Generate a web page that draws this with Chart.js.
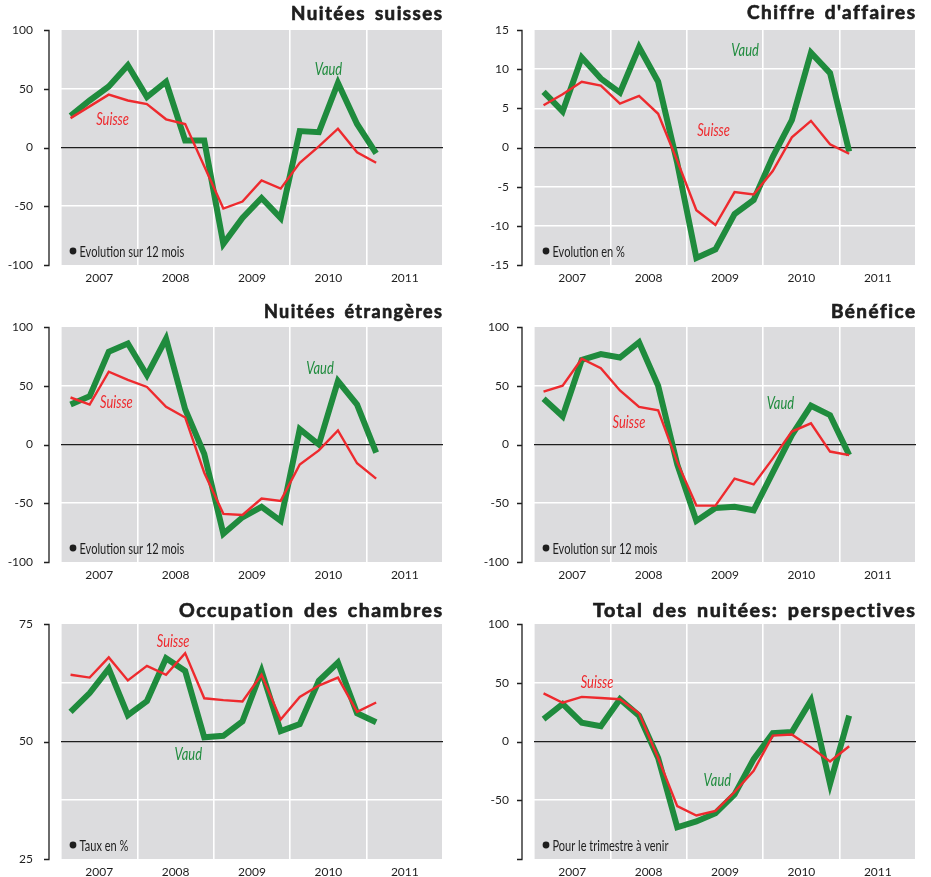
<!DOCTYPE html>
<html>
<head>
<meta charset="utf-8">
<script src="https://cdn.jsdelivr.net/npm/chart.js@4"></script>
<style>
  html, body { margin: 0; padding: 0; background: #fff; overflow: hidden; }
  canvas { position: absolute; }
</style>
</head>
<body>
<canvas id="c1" width="460" height="290" style="left:0;top:0"></canvas>
<canvas id="c2" width="458" height="290" style="left:473px;top:0"></canvas>
<canvas id="c3" width="460" height="290" style="left:0;top:297px"></canvas>
<canvas id="c4" width="458" height="290" style="left:473px;top:297px"></canvas>
<canvas id="c5" width="460" height="283" style="left:0;top:594px"></canvas>
<canvas id="c6" width="458" height="283" style="left:473px;top:594px"></canvas>
<script>
// Tick labels for the x axis (one per year)
const years = ['2007', '2008', '2009', '2010', '2011'];

// Quarters shown: 2007 T1 ... 2011 T1
const quarters = ['2007 T1', '2007 T2', '2007 T3', '2007 T4',
                  '2008 T1', '2008 T2', '2008 T3', '2008 T4',
                  '2009 T1', '2009 T2', '2009 T3', '2009 T4',
                  '2010 T1', '2010 T2', '2010 T3', '2010 T4',
                  '2011 T1'];

// Nuitées suisses (évolution sur 12 mois)
const vaudNuiteesSuisses   = [27, 40, 52, 70, 43, 56, 6, 6, -82, -60, -43, -60, 14, 13, 55, 20, -5];
const suisseNuiteesSuisses = [25, 35, 45, 40, 37, 24, 20, -16, -52, -46, -28, -35, -13, 1, 16, -4, -13];

// Chiffre d'affaires (évolution en %)
const vaudChiffre   = [7.1, 4.6, 11.5, 8.8, 7.0, 12.8, 8.4, -2.0, -14.1, -13.0, -8.5, -6.7, -1.2, 3.5, 12.1, 9.5, -0.5];
const suisseChiffre = [5.4, 6.8, 8.4, 7.9, 5.6, 6.6, 4.3, -1.7, -8.0, -9.9, -5.7, -6.0, -3.0, 1.3, 3.4, 0.4, -0.8];

// Nuitées étrangères (évolution sur 12 mois)
const vaudNuiteesEtr   = [34, 41, 79, 86, 59, 90, 30, -8, -76, -62, -53, -65, 13, 0, 54, 34, -7];
const suisseNuiteesEtr = [40, 34, 62, 55, 49, 32, 23, -24, -59, -60, -46, -48, -17, -5, 12, -16, -29];

// Bénéfice (évolution sur 12 mois)
const vaudBenefice   = [39, 24, 72, 77, 74, 87, 50, -17, -65, -54, -53, -56, -24, 8, 33, 25, -9];
const suisseBenefice = [45, 50, 73, 65, 46, 32, 29, -15, -52, -52, -29, -34, -12, 11, 18, -6, -9];

// Occupation des chambres (taux en %)
const vaudOccupation   = [56.3, 60.3, 65.5, 55.6, 58.6, 67.7, 65.0, 50.9, 51.2, 54.3, 65.0, 52.2, 53.7, 62.9, 66.8, 56.0, 54.1];
const suisseOccupation = [64.2, 63.6, 67.9, 63.0, 66.1, 64.2, 68.8, 59.2, 58.8, 58.5, 64.2, 54.7, 59.5, 61.9, 63.6, 56.3, 58.3];

// Total des nuitées: perspectives (pour le trimestre à venir)
const vaudPerspectives   = [19, 32, 16, 13, 36, 22, -14, -73, -68, -61, -45, -15, 7, 8, 35, -36, 22];
const suissePerspectives = [41, 33, 38, 37, 36, 24, -14, -55, -63, -59, -43, -25, 5, 6, -5, -17, -4];

const GREEN = '#1f8b3d';
const RED = '#ee2a2e';
const GRAY = '#dcdcde';
const INK = '#1e1e1e';

// Turn a series into points centred in their quarter on the 0..20 quarter axis
function toPoints(values) {
    return values.map((v, i) => ({ x: i + 0.5, y: v }));
}

// No extra room for overflowing tick labels: keep the plot box where we put it
function noScalePadding(s) {
    s.paddingTop = 0;
    s.paddingBottom = 0;
    s.paddingLeft = 0;
    s.paddingRight = 0;
}

// Gray plot background, detached y axis line, title, series labels and note
const decoPlugin = {
    id: 'deco',
    beforeDraw(chart) {
        const { ctx, chartArea: a } = chart;
        ctx.save();
        ctx.fillStyle = GRAY;
        ctx.fillRect(a.left, a.top, a.right - a.left, a.bottom - a.top);
        ctx.restore();
    },
    afterDraw(chart, args, opts) {
        const { ctx, chartArea: a, scales: { x, y } } = chart;

        // Y axis line with small ticks, set apart from the plot
        const ax = a.left - opts.gap;
        ctx.save();
        ctx.strokeStyle = INK;
        ctx.lineWidth = 1.3;
        ctx.beginPath();
        ctx.moveTo(ax, y.top);
        ctx.lineTo(ax, y.bottom);
        y.ticks.forEach(t => {
            if (opts.markStep && Math.abs(t.value % opts.markStep) > 1e-6) return;
            const py = Math.round(y.getPixelForValue(t.value)) + 0.5;
            ctx.moveTo(ax - 5, py);
            ctx.lineTo(ax + 0.6, py);
        });
        ctx.stroke();

        // Title, right aligned on the plot, squeezed to the width of the original
        ctx.save();
        ctx.font = 'bold 19.5px Lato';
        ctx.letterSpacing = '1.5px';
        ctx.wordSpacing = '3px';
        const w = ctx.measureText(opts.title).width - 1.5;
        ctx.translate(a.right - 1, a.top - opts.titleGap);
        ctx.scale(Math.min(1.1, opts.titleWidth / w), 1);
        ctx.textAlign = 'left';
        ctx.textBaseline = 'alphabetic';
        ctx.fillStyle = INK;
        ctx.strokeStyle = INK;
        ctx.lineWidth = 0.7;
        ctx.fillText(opts.title, -w, 0);
        ctx.strokeText(opts.title, -w, 0);
        ctx.restore();

        // Series names written next to the lines
        opts.labels.forEach(l => {
            ctx.save();
            ctx.translate(x.getPixelForValue(l.x), y.getPixelForValue(l.y));
            ctx.scale(0.76, 1);
            ctx.font = 'italic 17px Lato';
            ctx.textAlign = 'center';
            ctx.textBaseline = 'middle';
            ctx.fillStyle = l.color;
            ctx.fillText(l.text, 0, 0);
            ctx.restore();
        });

        // Note in the bottom left corner
        ctx.fillStyle = INK;
        ctx.beginPath();
        ctx.arc(a.left + 12, a.bottom - 14, 3.4, 0, Math.PI * 2);
        ctx.fill();
        ctx.save();
        ctx.translate(a.left + 18.5, a.bottom - 8.5);
        ctx.scale(0.735, 1);
        ctx.font = '15px Lato';
        ctx.textAlign = 'left';
        ctx.textBaseline = 'alphabetic';
        ctx.fillText(opts.note, 0, 0);
        ctx.restore();
        ctx.restore();
    }
};

function makeChart(p) {
    const ctx = document.getElementById(p.id).getContext('2d');
    return new Chart(ctx, {
        type: 'line',
        data: {
            datasets: [
                {
                    label: 'Vaud',
                    data: toPoints(p.vaud),
                    borderColor: GREEN,
                    borderWidth: 6,
                    order: 2
                },
                {
                    label: 'Suisse',
                    data: toPoints(p.suisse),
                    borderColor: RED,
                    borderWidth: 2.4,
                    order: 1
                }
            ]
        },
        options: {
            responsive: false,
            animation: false,
            devicePixelRatio: 1,
            layout: { padding: { top: 30, right: p.padRight, bottom: p.padBottom, left: 0 } },
            elements: {
                point: { radius: 0 },
                line: { tension: 0, borderJoinStyle: 'miter', borderCapStyle: 'butt' }
            },
            plugins: {
                legend: { display: false },
                tooltip: { enabled: false },
                deco: {
                    title: p.title,
                    titleGap: p.titleGap,
                    titleWidth: p.titleWidth,
                    gap: 12,
                    markStep: p.markStep,
                    labels: p.labels,
                    note: p.note
                }
            },
            scales: {
                x: {
                    type: 'linear',
                    min: 0,
                    max: 20,
                    afterFit: s => { s.height = p.xHeight; noScalePadding(s); },
                    border: { display: false },
                    grid: {
                        drawTicks: false,
                        color: c => (c.tick.value % 4 === 0 ? '#ffffff' : 'rgba(0,0,0,0)'),
                        lineWidth: 1.6
                    },
                    ticks: {
                        stepSize: 2,
                        autoSkip: false,
                        maxRotation: 0,
                        padding: 6,
                        color: INK,
                        font: { family: 'Lato', size: 12 },
                        callback: v => (v % 4 === 2 ? years[(v - 2) / 4] : '')
                    }
                },
                y: {
                    min: p.min,
                    max: p.max,
                    afterFit: s => { s.width = 61; noScalePadding(s); },
                    border: { display: false },
                    grid: {
                        drawTicks: false,
                        color: c => {
                            const v = c.tick.value;
                            if (v === p.base) return INK;
                            if (v === p.min || v === p.max) return 'rgba(0,0,0,0)';
                            return '#ffffff';
                        },
                        lineWidth: c => (c.tick.value === p.base ? 1.3 : 1.6)
                    },
                    ticks: {
                        stepSize: p.step,
                        padding: p.labelPad,
                        color: INK,
                        font: { family: 'Lato', size: 12 },
                        callback: v => {
                            if (p.hide && p.hide.includes(v)) return '';
                            if (p.markStep && v % p.markStep !== 0) return '';
                            return v;
                        }
                    }
                }
            }
        },
        plugins: [decoPlugin]
    });
}

const panels = [
    {
        id: 'c1', title: 'Nuitées suisses', note: 'Evolution sur 12 mois',
        vaud: vaudNuiteesSuisses, suisse: suisseNuiteesSuisses,
        min: -100, max: 100, step: 50, base: 0,
        padRight: 17, padBottom: 5, xHeight: 20, titleGap: 10.5, titleWidth: 151, labelPad: 28,
        labels: [
            { text: 'Vaud', x: 14.0, y: 66, color: GREEN },
            { text: 'Suisse', x: 2.7, y: 23.5, color: RED }
        ]
    },
    {
        id: 'c2', title: "Chiffre d'affaires", note: 'Evolution en %',
        vaud: vaudChiffre, suisse: suisseChiffre,
        min: -15, max: 15, step: 5, base: 0,
        padRight: 15, padBottom: 5, xHeight: 20, titleGap: 11, titleWidth: 168, labelPad: 25,
        labels: [
            { text: 'Vaud', x: 11.05, y: 12.4, color: GREEN },
            { text: 'Suisse', x: 9.4, y: 2.2, color: RED }
        ]
    },
    {
        id: 'c3', title: 'Nuitées étrangères', note: 'Evolution sur 12 mois',
        vaud: vaudNuiteesEtr, suisse: suisseNuiteesEtr,
        min: -100, max: 100, step: 50, base: 0,
        padRight: 17, padBottom: 5, xHeight: 20, titleGap: 9, titleWidth: 178, labelPad: 28,
        labels: [
            { text: 'Vaud', x: 13.56, y: 64.6, color: GREEN },
            { text: 'Suisse', x: 2.9, y: 35.6, color: RED }
        ]
    },
    {
        id: 'c4', title: 'Bénéfice', note: 'Evolution sur 12 mois',
        vaud: vaudBenefice, suisse: suisseBenefice,
        min: -100, max: 100, step: 50, base: 0,
        padRight: 15, padBottom: 5, xHeight: 20, titleGap: 9, titleWidth: 84, labelPad: 25,
        labels: [
            { text: 'Vaud', x: 12.9, y: 34.8, color: GREEN },
            { text: 'Suisse', x: 4.97, y: 18.5, color: RED }
        ]
    },
    {
        id: 'c5', title: 'Occupation des chambres', note: 'Taux en %',
        vaud: vaudOccupation, suisse: suisseOccupation,
        min: 25, max: 75, step: 12.5, base: 50, markStep: 25,
        padRight: 17, padBottom: 0, xHeight: 18, titleGap: 7, titleWidth: 263, labelPad: 28,
        labels: [
            { text: 'Suisse', x: 5.87, y: 71.3, color: RED },
            { text: 'Vaud', x: 6.66, y: 47.2, color: GREEN }
        ]
    },
    {
        id: 'c6', title: 'Total des nuitées: perspectives', note: 'Pour le trimestre à venir',
        vaud: vaudPerspectives, suisse: suissePerspectives,
        min: -100, max: 100, step: 50, base: 0, hide: [-100],
        padRight: 15, padBottom: 0, xHeight: 18, titleGap: 7, titleWidth: 322, labelPad: 25,
        labels: [
            { text: 'Suisse', x: 3.3, y: 50.3, color: RED },
            { text: 'Vaud', x: 9.6, y: -33.5, color: GREEN }
        ]
    }
];

panels.forEach(makeChart);
</script>
</body>
</html>
